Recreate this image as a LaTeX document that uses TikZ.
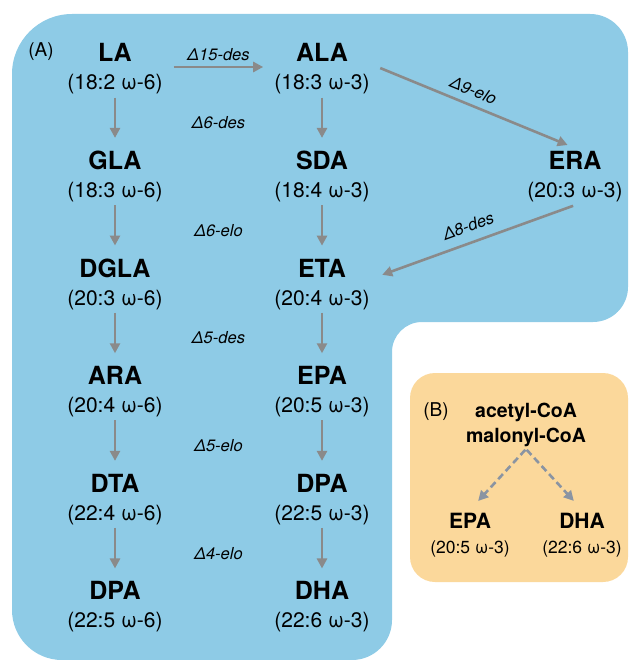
\documentclass[tikz,border=0pt]{standalone}
\usepackage{fontspec}
\setmainfont{TeX Gyre Heros}
\usetikzlibrary{positioning,arrows.meta,calc}
\definecolor{panelA}{RGB}{142,203,230}
\definecolor{panelB}{RGB}{251,216,155}
\definecolor{arrowgray}{RGB}{138,138,138}
\definecolor{dashgray}{RGB}{138,148,162}
\newcommand{\acid}[2]{{\fontsize{25}{28}\selectfont\bfseries #1}\\#2}
\newcommand{\acidb}[2]{{\fontsize{21}{25}\selectfont\bfseries #1}\\#2}

\begin{document}
\begin{tikzpicture}[x=1pt, y=-1pt, on grid,
        acid/.style={align=center, font=\fontsize{21}{28}\selectfont, inner sep=3pt},
        smallacid/.style={align=center, font=\fontsize{17.5}{25}\selectfont, inner sep=3pt},
        enzyme/.style={font=\fontsize{16.5}{19}\selectfont\itshape},
        panel/.style={font=\fontsize{19}{22}\selectfont},
        arrow/.style={-{Triangle[length=10pt,width=10pt]}, line width=2.6pt, draw=arrowgray},
        dasharrow/.style={arrow, draw=dashgray, dash pattern=on 7pt off 4pt}
    ]
    \useasboundingbox (0,0) rectangle (628,660);

    % Panel backgrounds
    \fill[panelA] (12,74) arc[start angle=180, end angle=270, radius=60]
        -- (590,14) arc[start angle=270, end angle=360, radius=38]
        -- (628,287) arc[start angle=0, end angle=90, radius=35]
        -- (422,322) arc[start angle=270, end angle=180, radius=30]
        -- (392,620) arc[start angle=0, end angle=90, radius=40]
        -- (62,660) arc[start angle=90, end angle=180, radius=50]
        -- cycle;
    \fill[panelB, rounded corners=25pt] (410,373) rectangle (628,582);

    % Omega-6 column
    \node[acid] (LA) at (115,69) {\acid{LA}{(18:2 ω-6)}};
    \node[acid, below=107.6pt of LA] (GLA) {\acid{GLA}{(18:3 ω-6)}};
    \node[acid, below=107.6pt of GLA] (DGLA) {\acid{DGLA}{(20:3 ω-6)}};
    \node[acid, below=107.6pt of DGLA] (ARA) {\acid{ARA}{(20:4 ω-6)}};
    \node[acid, below=107.6pt of ARA] (DTA) {\acid{DTA}{(22:4 ω-6)}};
    \node[acid, below=107.6pt of DTA] (DPAsix) {\acid{DPA}{(22:5 ω-6)}};

    % Omega-3 column
    \node[acid, right=207pt of LA] (ALA) {\acid{ALA}{(18:3 ω-3)}};
    \node[acid, below=107.6pt of ALA] (SDA) {\acid{SDA}{(18:4 ω-3)}};
    \node[acid, below=107.6pt of SDA] (ETA) {\acid{ETA}{(20:4 ω-3)}};
    \node[acid, below=107.6pt of ETA] (EPA) {\acid{EPA}{(20:5 ω-3)}};
    \node[acid, below=107.6pt of EPA] (DPA) {\acid{DPA}{(22:5 ω-3)}};
    \node[acid, below=107.6pt of DPA] (DHA) {\acid{DHA}{(22:6 ω-3)}};
    \node[acid, right=253pt of SDA] (ERA) {\acid{ERA}{(20:3 ω-3)}};

    \node[panel] (labelA) at (41,52) {(A)};

    % Enzyme labels between the columns
    \node[enzyme] (d6des) at ($(LA)!0.5!(SDA)$) {Δ6-des};
    \node[enzyme] (d6elo) at ($(GLA)!0.5!(ETA)$) {Δ6-elo};
    \node[enzyme] (d5des) at ($(DGLA)!0.5!(EPA)$) {Δ5-des};
    \node[enzyme] (d5elo) at ($(ARA)!0.5!(DPA)$) {Δ5-elo};
    \node[enzyme] (d4elo) at ($(DTA)!0.5!(DHA)$) {Δ4-elo};

    % Connect everything
    \draw[arrow, shorten <=8pt, shorten >=8pt] ([yshift=2pt]LA.east) -- node[enzyme, above=2pt] (d15des) {Δ15-des} ([yshift=2pt]ALA.west);
    \foreach \a/\b in {LA/GLA, GLA/DGLA, DGLA/ARA, ARA/DTA, DTA/DPAsix,
                       ALA/SDA, SDA/ETA, ETA/EPA, EPA/DPA, DPA/DHA}
        \draw[arrow, shorten >=10pt] (\a) -- (\b);
    \draw[arrow, shorten <=8pt, shorten >=8pt] ([yshift=4pt]ALA.east) -- node[enzyme, above=4pt, sloped, pos=0.47] (d9elo) {Δ9-elo} (ERA.north);
    \draw[arrow, shorten <=2pt, shorten >=10pt] (ERA.south) -- node[enzyme, above=6pt, sloped, pos=0.5] (d8des) {Δ8-des} ([yshift=6pt]ETA.east);

    % Panel B
    \node[panel] (labelB) at (436,412) {(B)};
    \node[align=center, font=\fontsize{19.5}{25}\selectfont\bfseries, inner sep=2pt] (CoA) at (526,425) {acetyl-CoA\\malonyl-CoA};
    \node[smallacid] (EPAb) at (470,535) {\acidb{EPA}{(20:5 ω-3)}};
    \node[smallacid] (DHAb) at (582,535) {\acidb{DHA}{(22:6 ω-3)}};
    \draw[dasharrow, shorten <=1pt, shorten >=12pt] (CoA.south) -- (EPAb.north);
    \draw[dasharrow, shorten <=1pt, shorten >=12pt] (CoA.south) -- (DHAb.north);
\end{tikzpicture}
\end{document}
